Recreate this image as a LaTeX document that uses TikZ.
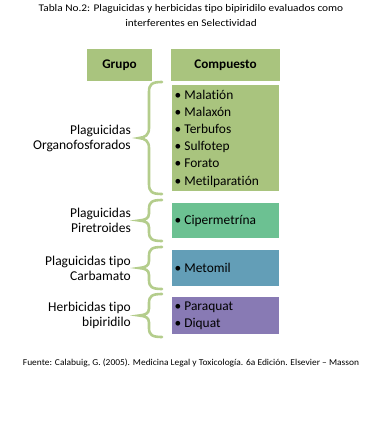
\documentclass[tikz,border=0pt]{standalone}
\usepackage{fontspec}
\setmainfont{Carlito}[Ligatures=NoCommon]
\definecolor{hdr}{RGB}{169,196,126}
\definecolor{cOrg}{RGB}{169,196,126}
\definecolor{cPir}{RGB}{108,193,146}
\definecolor{cCar}{RGB}{99,158,183}
\definecolor{cBip}{RGB}{136,122,180}
\definecolor{brc}{RGB}{180,205,140}
\begin{document}
\begin{tikzpicture}[x=1pt,y=-1pt,
  box/.style={inner sep=0pt,outer sep=0pt},
  lst/.style={anchor=west,align=left,inner sep=0pt,font=\fontsize{13.4}{17.2}\selectfont},
  lbl/.style={anchor=east,align=right,inner sep=0pt,font=\fontsize{13.5}{15}\selectfont},
  brace/.style={draw=brc,line width=2.6pt,line cap=round}]
\useasboundingbox (0,0) rectangle (387,423);
\node[inner sep=0pt,align=center,font=\fontsize{10.2}{15}\selectfont] (title) at (191,15.5)
  {\addfontfeatures{FakeStretch=1.11}Tabla No.2: Plaguicidas y herbicidas tipo bipiridilo evaluados como\\\addfontfeatures{FakeStretch=1.11}interferentes en Selectividad};
% headers
\node[box,fill=hdr,minimum width=65,minimum height=32,font=\fontsize{13.2}{15}\bfseries] (grupo) at (119.5,65) {Grupo};
\node[box,fill=hdr,minimum width=109,minimum height=32,font=\fontsize{13.2}{15}\bfseries] (comp) at (225.5,65) {Compuesto};
% boxes
\node[box,fill=cOrg,minimum width=107,minimum height=106] (org) at (225.5,138) {};
\node[box,fill=cPir,minimum width=107,minimum height=35] (pir) at (225.5,220.5) {};
\node[box,fill=cCar,minimum width=107,minimum height=36] (car) at (225.5,268) {};
\node[box,fill=cBip,minimum width=107,minimum height=37] (bip) at (225.5,315.5) {};
% lists
\node[lst] (lorg) at (174.5,138.5) {• Malatión\\• Malaxón\\• Terbufos\\• Sulfotep\\• Forato\\• Metilparatión};
\node[lst] (lpir) at (174.5,220.5) {• Cipermetrína};
\node[lst] (lcar) at (174.5,268) {• Metomil};
\node[lst] (lbip) at (174.5,315.5) {• Paraquat\\• Diquat};
% labels
\node[lbl] (gorg) at (131,138) {Plaguicidas\\Organofosforados};
\node[lbl] (gpir) at (131,220.5) {Plaguicidas\\Piretroides};
\node[lbl] (gcar) at (131,268) {Plaguicidas tipo\\Carbamato};
\node[lbl] (gbip) at (131,315.5) {Herbicidas tipo\\bipiridilo};
% braces
\draw[brace] (162,82) .. controls (152,82) and (149,84) .. (149,92) -- (149,128) .. controls (149,135) and (145,137.5) .. (139,138)
  .. controls (145,138.5) and (149,141) .. (149,148) -- (149,184) .. controls (149,192) and (152,194) .. (162,194);
\foreach \t/\b in {200/241,247/289,294/337}{
  \pgfmathsetmacro\m{(\t+\b)/2}
  \draw[brace] (162,\t) .. controls (152,\t) and (149,\t+2) .. (149,\t+9) -- (149,\m-7) .. controls (149,\m-2) and (145,\m-0.5) .. (139,\m)
  .. controls (145,\m+0.5) and (149,\m+2) .. (149,\m+7) -- (149,\b-9) .. controls (149,\b-2) and (152,\b) .. (162,\b);
}
\node[inner sep=0pt,font=\fontsize{9}{10}\selectfont] (src) at (191,363)
  {\addfontfeatures{FakeStretch=1.05}Fuente: Calabuig, G. (2005). Medicina Legal y Toxicología. 6a Edición. Elsevier – Masson};
\end{tikzpicture}
\end{document}
